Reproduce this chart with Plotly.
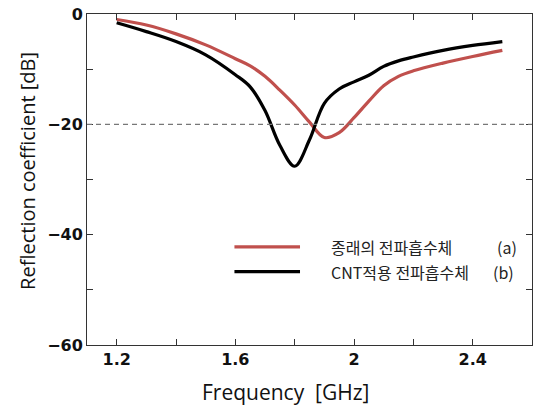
import plotly.graph_objects as go

freq = [1.2, 1.3, 1.4, 1.5, 1.6, 1.65, 1.7, 1.75, 1.8, 1.85, 1.9, 1.95, 2.0, 2.05, 2.1, 2.15, 2.2, 2.3, 2.4, 2.5]
conventional = [-1.0, -2.0, -3.6, -5.6, -8.1, -9.4, -11.3, -13.8, -16.5, -19.6, -22.4, -21.5, -18.8, -15.8, -13.0, -11.3, -10.3, -8.9, -7.7, -6.6]
cnt = [-1.6, -3.2, -5.0, -7.4, -11.0, -13.2, -17.5, -23.8, -27.6, -22.8, -16.2, -13.6, -12.3, -11.1, -9.5, -8.5, -7.8, -6.6, -5.7, -5.0]

name_a = "종래의 전파흡수체"
name_b = "CNT적용 전파흡수체"
tag_a = "(a)"
tag_b = "(b)"
x_title = "Frequency  [GHz]"
y_title = "Reflection coefficient [dB]"

x_ticks = [1.2, 1.4, 1.6, 1.8, 2.0, 2.2, 2.4]
x_labels = ["1.2", "", "1.6", "", "2", "", "2.4"]
y_ticks = [0, -10, -20, -30, -40, -50, -60]
y_labels = ["0", "", "\u221220", "", "\u221240", "", "\u221260"]

red = "#c0504d"
black = "#000000"

fig = go.Figure()
fig.add_trace(go.Scatter(x=freq, y=conventional, mode="lines", name=name_a,
                         line=dict(color=red, width=3.2, shape="spline", smoothing=1.0),
                         showlegend=False))
fig.add_trace(go.Scatter(x=freq, y=cnt, mode="lines", name=name_b,
                         line=dict(color=black, width=3.2, shape="spline", smoothing=1.0),
                         showlegend=False))

# -20 dB reference line
fig.add_shape(type="line", xref="paper", x0=0, x1=1, yref="y", y0=-20, y1=-20,
              line=dict(color="#777777", width=1.2, dash="5px,4px"))

# legend drawn manually
fig.add_shape(type="line", xref="x", yref="y", x0=1.597, x1=1.818, y0=-42.2, y1=-42.2,
              line=dict(color=red, width=3.2))
fig.add_shape(type="line", xref="x", yref="y", x0=1.597, x1=1.818, y0=-46.7, y1=-46.7,
              line=dict(color=black, width=3.2))
lfont = dict(family="Noto Sans CJK KR", size=16, color="#222222")
fig.add_annotation(x=1.916, y=-42.2, xref="x", yref="y", text=name_a, showarrow=False,
                   xanchor="left", yanchor="middle", font=lfont)
fig.add_annotation(x=1.916, y=-46.7, xref="x", yref="y", text=name_b, showarrow=False,
                   xanchor="left", yanchor="middle", font=lfont)
fig.add_annotation(x=2.474, y=-42.2, xref="x", yref="y", text=tag_a, showarrow=False,
                   xanchor="left", yanchor="middle", font=lfont)
fig.add_annotation(x=2.462, y=-46.7, xref="x", yref="y", text=tag_b, showarrow=False,
                   xanchor="left", yanchor="middle", font=lfont)

fig.add_annotation(x=0.445, y=-0.142, xref="paper", yref="paper", text=x_title,
                   showarrow=False, xanchor="center", yanchor="middle",
                   font=dict(family="Open Sans", size=21, color="#111111"))
fig.add_annotation(x=-0.1326, y=0.526, xref="paper", yref="paper", text=y_title,
                   showarrow=False, xanchor="center", yanchor="middle", textangle=-90,
                   font=dict(family="Open Sans", size=20, color="#111111"))

tickfont = dict(family="DejaVu Sans", size=16, color="#111111", weight="bold")

fig.update_xaxes(range=[1.1, 2.6], tickvals=x_ticks, ticktext=x_labels,
                 ticks="inside", ticklen=6, tickcolor="#333333",
                 showline=True, linecolor="#333333", linewidth=1, mirror="ticks",
                 showgrid=False, zeroline=False, tickfont=tickfont, automargin=False)
fig.update_yaxes(range=[-60, 0], tickvals=y_ticks, ticktext=y_labels,
                 ticks="inside", ticklen=6, tickcolor="#333333",
                 showline=True, linecolor="#333333", linewidth=1, mirror="ticks",
                 showgrid=False, zeroline=False, tickfont=tickfont, automargin=False)

fig.update_layout(width=534, height=408, margin=dict(l=87, r=2, t=14, b=63),
                  plot_bgcolor="white", paper_bgcolor="white")

fig.write_html("out.html", config={"displayModeBar": False},
               post_script="document.body.style.margin='0';")
